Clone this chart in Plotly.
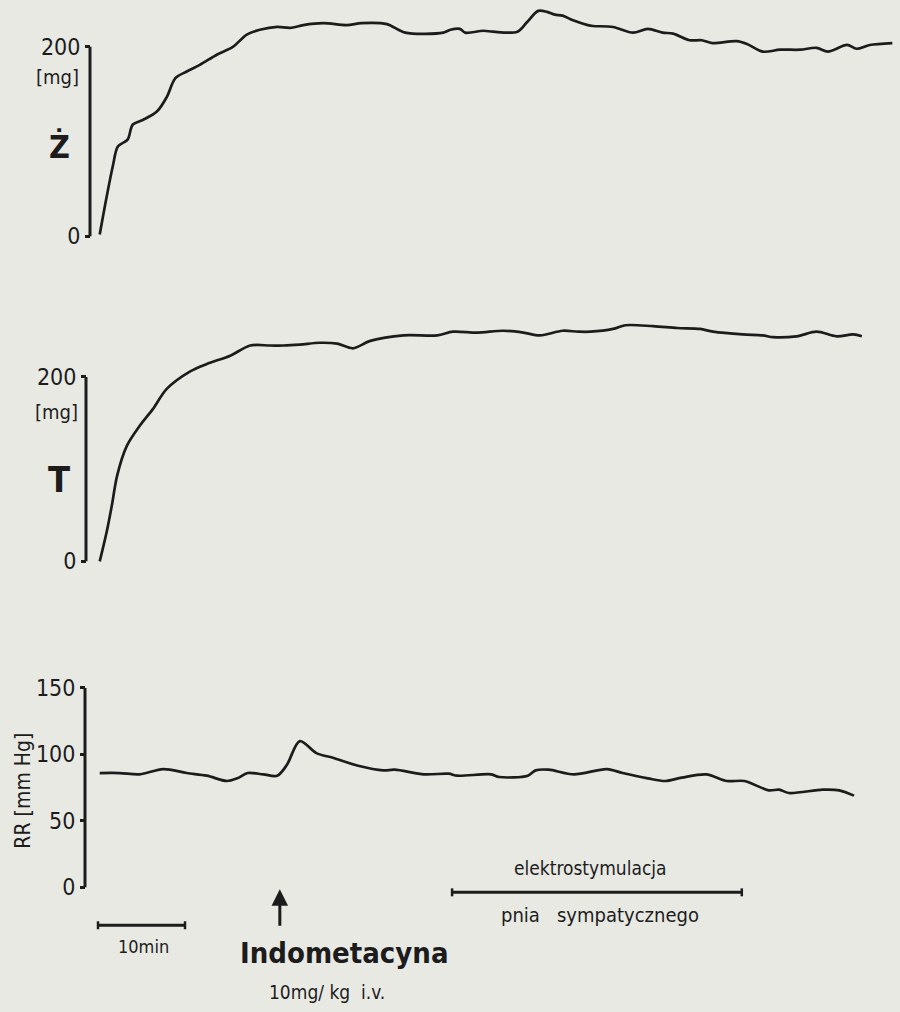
import plotly.graph_objects as go

# ---------------- data ----------------
# time in minutes from the start of the record
z_time = [0.2, 1.0, 1.7, 2.3, 3.4, 4.0, 5.2, 6.8, 7.9, 8.9,
          10.2, 11.7, 13.7, 15.5, 17.1, 18.6, 20.6, 22.1, 23.6, 25.9,
          28.6, 30.3, 33.2, 35.3, 39.7, 40.5, 41.6, 42.2, 44.3, 45.4,
          48.2, 49.3, 50.6, 51.6, 52.5, 53.4, 54.6, 56.3, 56.9, 59.2,
          61.5, 63.2, 64.9, 66.1, 68.0, 69.4, 70.6, 73.4, 74.6, 76.4,
          78.4, 80.7, 82.6, 83.9, 86.1, 87.2, 88.7, 91.3]
z_mg = [2, 42, 74, 95, 102, 118, 123, 132, 147, 167,
        174, 181, 192, 200, 213, 218, 221, 220, 223, 225,
        223, 225, 224, 215, 215, 218, 219, 215, 217, 216,
        216, 226, 238, 237, 234, 233, 228, 223, 222, 221,
        215, 219, 215, 214, 207, 207, 204, 206, 203, 195,
        197, 197, 199, 195, 202, 198, 202, 204]

t_time = [0.2, 1.0, 1.6, 2.2, 3.3, 4.8, 6.3, 7.9, 10.6, 12.5,
          15.2, 17.5, 19.8, 21.3, 23.2, 25.5, 27.5, 29.3, 31.3, 35.1,
          39.0, 40.8, 43.6, 46.6, 48.9, 50.8, 53.4, 55.2, 56.6, 59.2,
          60.6, 63.8, 66.6, 69.2, 70.7, 74.1, 76.4, 77.6, 80.3, 82.6,
          84.9, 86.8, 87.8]
t_mg = [0, 32, 61, 93, 125, 147, 165, 187, 206, 214,
        223, 234, 234, 234, 235, 237, 236, 231, 239, 245,
        245, 249, 248, 250, 248, 245, 250, 249, 249, 252,
        256, 255, 253, 252, 249, 246, 245, 243, 244, 249,
        244, 246, 244]

rr_time = [0.2, 2.5, 4.8, 7.5, 10.2, 12.5, 14.8, 16.0, 17.2, 19.0,
           20.6, 21.7, 23.2, 25.1, 27.0, 29.9, 32.8, 34.1, 37.5, 40.3,
           41.3, 45.2, 46.1, 49.4, 50.3, 51.8, 54.7, 58.5, 60.3, 63.2,
           65.2, 67.1, 69.9, 72.3, 74.3, 77.1, 78.3, 79.4, 83.3, 85.2,
           86.9]
rr_mmhg = [86, 86, 85, 89, 86, 84, 80, 82, 86, 85,
           84, 92, 110, 101, 97.5, 91.5, 88, 88.5, 85, 85.5,
           84, 85, 83, 84, 88, 88.5, 85, 89, 86, 82,
           80, 82.5, 85, 80, 80, 73, 73.5, 71, 73.5, 73,
           69]

z_ticks = [0, 200]
t_ticks = [0, 200]
rr_ticks = [0, 50, 100, 150]

scale_bar_min = [0, 10]          # "10 min" bar
indomethacin_min = 20.9          # injection time
stim_min = [40.7, 74.0]          # electrostimulation period

# ---------------- layout helpers ----------------
W, H = 900, 1012
X0_PX, PX_PER_MIN = 98, 8.7
INK = "#1c1c1c"
FONT = "DejaVu Sans Condensed, Liberation Sans Narrow, Roboto, sans-serif"


def px(x):
    return x / W


def py(y):
    return 1 - y / H


def yaxis_cfg(v0, p0, v1, p1, top, bottom, pos_px, ticks):
    slope = (p0 - p1) / (v1 - v0)
    lo = v0 - (bottom - p0) / slope
    hi = v0 + (p0 - top) / slope
    return dict(domain=[py(bottom), py(top)], range=[lo, hi],
                anchor="free", position=px(pos_px),
                showgrid=False, zeroline=False, showline=False,
                tickmode="array", tickvals=ticks,
                ticks="outside", ticklen=5, tickwidth=2.5, tickcolor=INK,
                tickfont=dict(family=FONT, size=23, color=INK))


fig = go.Figure()
line_style = dict(color=INK, width=2.7, shape="spline", smoothing=0.9)
fig.add_trace(go.Scatter(x=z_time, y=z_mg, mode="lines", line=line_style,
                         xaxis="x", yaxis="y", showlegend=False))
fig.add_trace(go.Scatter(x=t_time, y=t_mg, mode="lines", line=line_style,
                         xaxis="x", yaxis="y2", showlegend=False))
fig.add_trace(go.Scatter(x=rr_time, y=rr_mmhg, mode="lines", line=line_style,
                         xaxis="x", yaxis="y3", showlegend=False))

axes_pos = [90, 86, 85]
fig.update_layout(
    width=W, height=H,
    margin=dict(l=0, r=0, t=0, b=0),
    paper_bgcolor="#e9e9e4", plot_bgcolor="rgba(0,0,0,0)",
    xaxis=dict(domain=[0, 1], range=[-X0_PX / PX_PER_MIN, (W - X0_PX) / PX_PER_MIN],
               visible=False, anchor="y"),
    yaxis=yaxis_cfg(0, 237, 200, 47, 0, 250, axes_pos[0], z_ticks),
    yaxis2=yaxis_cfg(0, 563, 200, 378, 300, 575, axes_pos[1], t_ticks),
    yaxis3=yaxis_cfg(0, 890, 150, 690, 670, 900, axes_pos[2], rr_ticks),
)

shapes = []
# vertical axis lines
for ref, top_val, xp in [("y", z_ticks[-1], axes_pos[0]),
                         ("y2", t_ticks[-1], axes_pos[1]),
                         ("y3", rr_ticks[-1], axes_pos[2])]:
    shapes.append(dict(type="line", xref="paper", yref=ref,
                       x0=px(xp), x1=px(xp), y0=0, y1=top_val,
                       line=dict(color=INK, width=3)))

# horizontal bars with end caps
def bar(x0, x1, ypx, cap=5, width=3):
    out = [dict(type="line", xref="x", yref="paper", x0=x0, x1=x1,
                y0=py(ypx), y1=py(ypx), line=dict(color=INK, width=width))]
    for xv in (x0, x1):
        out.append(dict(type="line", xref="x", yref="paper", x0=xv, x1=xv,
                        y0=py(ypx - cap), y1=py(ypx + cap),
                        line=dict(color=INK, width=2.5)))
    return out

shapes += bar(scale_bar_min[0], scale_bar_min[1], 928, cap=4)
shapes += bar(stim_min[0], stim_min[1], 895, cap=4)
fig.update_layout(shapes=shapes)

ann = []
def text(x, y, s, size, bold=False, angle=0):
    ann.append(dict(xref="paper", yref="paper", x=px(x), y=py(y), text=s,
                    showarrow=False, textangle=angle,
                    xanchor="center", yanchor="middle",
                    font=dict(family=FONT, size=size, color=INK,
                              weight="bold" if bold else "normal")))

text(57, 77, "[mg]", 20)
text(59, 147, "Ż", 32, bold=True)
text(56, 413, "[mg]", 20)
text(59, 481, "T", 36, bold=True)
text(23, 793, "RR [mm Hg]", 21, angle=-90)
text(143, 949, "10min", 18)
text(344, 956, "Indometacyna", 29, bold=True)
text(327, 995, "10mg/ kg  i.v.", 19)
text(590, 871, "elektrostymulacja", 19)
text(600, 918, "pnia   sympatycznego", 20)

# arrow for the injection
ann.append(dict(xref="x", yref="paper", x=indomethacin_min, y=py(892),
                text="", showarrow=True, ax=0, ay=38, axref="pixel", ayref="pixel",
                arrowhead=2, arrowsize=1.1, arrowwidth=3, arrowcolor=INK))
fig.update_layout(annotations=ann)

fig.write_html("out.html",
               config={"displayModeBar": False},
               post_script="document.body.style.margin='0';document.body.style.overflow='hidden';")
